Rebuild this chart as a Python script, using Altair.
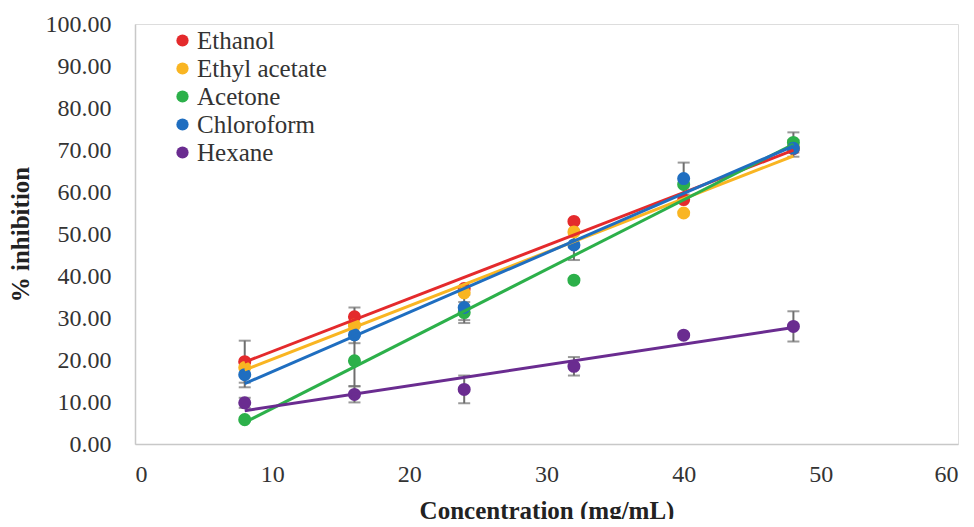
import altair as alt
import pandas as pd

conc = [8, 16, 24, 32, 40, 48]
series_names = ["Ethanol", "Ethyl acetate", "Acetone", "Chloroform", "Hexane"]
colors = ["#e42a2c", "#f9b522", "#2cb04a", "#1f6ec0", "#6a2c90"]

ethanol = [19.6, 30.3, 37.0, 53.0, 58.2, 70.3]
ethyl_acetate = [18.2, 28.3, 36.0, 50.5, 55.0, 70.6]
acetone = [5.8, 19.8, 31.3, 39.0, 61.8, 71.8]
chloroform = [16.5, 26.0, 32.5, 47.4, 63.2, 70.4]
hexane = [9.8, 11.8, 13.0, 18.5, 25.9, 28.0]

ethanol_err = [5.0, 2.2, 0.0, 0.0, 0.0, 0.0]
ethyl_acetate_err = [0.0, 0.0, 0.0, 0.0, 0.0, 0.0]
acetone_err = [0.0, 6.0, 2.5, 0.0, 0.0, 2.4]
chloroform_err = [3.0, 2.0, 3.0, 3.6, 3.8, 2.0]
hexane_err = [1.2, 1.9, 3.3, 2.2, 0.0, 3.6]

values = [ethanol, ethyl_acetate, acetone, chloroform, hexane]
errors = [ethanol_err, ethyl_acetate_err, acetone_err, chloroform_err, hexane_err]

rows = []
for name, vals, errs in zip(series_names, values, errors):
    for c, v, e in zip(conc, vals, errs):
        rows.append({"series": name, "x": c, "y": v, "lo": v - e, "hi": v + e, "err": e})
df = pd.DataFrame(rows)

FONT = "Liberation Serif"
color = alt.Color(
    "series:N",
    scale=alt.Scale(domain=series_names, range=colors),
    sort=series_names,
    legend=alt.Legend(
        title=None, orient="none", legendX=35, legendY=4,
        symbolType="circle", symbolSize=150, symbolStrokeWidth=0,
        labelFont=FONT, labelFontSize=25, labelColor="#333333",
        rowPadding=2, labelOffset=2,
    ),
)

xscale = alt.Scale(domain=[0, 60], nice=False)
yscale = alt.Scale(domain=[0, 100], nice=False)
xaxis = alt.Axis(values=[0, 10, 20, 30, 40, 50, 60], title="Concentration (mg/mL)", grid=False,
                 ticks=False, labelPadding=18, domainColor="#c8c8c8", domainWidth=1.5,
                 labelFont=FONT, labelFontSize=24, labelColor="#333333",
                 titleFont=FONT, titleFontSize=25, titleFontWeight="bold", titlePadding=12,
                 titleColor="#222222")
yaxis = alt.Axis(values=list(range(0, 101, 10)), format=".2f", title="% inhibition", grid=False,
                 ticks=False, labelPadding=24, domainColor="#c8c8c8", domainWidth=1.5,
                 labelFont=FONT, labelFontSize=24, labelColor="#333333",
                 titleFont=FONT, titleFontSize=25, titleFontWeight="bold", titlePadding=12,
                 titleColor="#222222")

base = alt.Chart(df)
edf = base.transform_filter(alt.datum.err > 0)

bars = edf.mark_rule(color="#6e6e6e", strokeWidth=2).encode(
    x=alt.X("x:Q", scale=xscale, axis=xaxis),
    y=alt.Y("lo:Q", scale=yscale, axis=yaxis),
    y2="hi:Q",
)
cap_hi = edf.mark_tick(color="#6e6e6e", thickness=2, size=12, orient="horizontal").encode(
    x=alt.X("x:Q", scale=xscale), y=alt.Y("hi:Q", scale=yscale)
)
cap_lo = edf.mark_tick(color="#6e6e6e", thickness=2, size=12, orient="horizontal").encode(
    x=alt.X("x:Q", scale=xscale), y=alt.Y("lo:Q", scale=yscale)
)
points = base.mark_circle(size=170, opacity=1).encode(
    x=alt.X("x:Q", scale=xscale), y=alt.Y("y:Q", scale=yscale), color=color
)
lines = base.transform_regression("x", "y", groupby=["series"]).mark_line(strokeWidth=3).encode(
    x=alt.X("x:Q", scale=xscale), y=alt.Y("y:Q", scale=yscale),
    color=alt.Color("series:N", scale=alt.Scale(domain=series_names, range=colors), legend=None),
)

chart = alt.layer(bars, cap_hi, cap_lo, points, lines).properties(
    width=823, height=420,
    autosize=alt.AutoSizeParams(type="none"),
    padding={"left": 127, "top": 16, "right": 8, "bottom": 75},
).configure_view(stroke=None).configure(background="white")

chart.save("out.html", embed_options={"renderer": "svg", "actions": False})
